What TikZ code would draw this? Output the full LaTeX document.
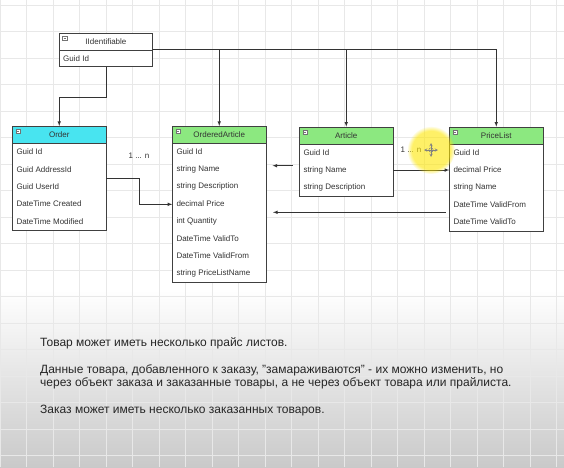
\documentclass[tikz,border=0pt]{standalone}
\usepackage{fontspec}
\setmainfont{Liberation Sans}
\usetikzlibrary{positioning,fadings}
\definecolor{ordercyan}{RGB}{72,228,240}
\definecolor{headgreen}{RGB}{140,232,128}
\begin{document}
\begin{tikzpicture}[x = 1pt, y = -1pt,
    every node/.style = {font = \fontsize{8}{9.6}\selectfont, text = black!80},
    classbox/.style = {draw = black!75, fill = white, line width = .6pt, minimum width = 93.3pt, inner sep = 0pt, anchor = north west},
    headbox/.style = {classbox, minimum height = 17.33pt},
    rowtext/.style = {anchor = west, inner sep = 0pt},
    link/.style = {draw = black!80, line width = .6pt},
    note/.style = {anchor = base west, inner sep = 0pt, font = \fontsize{12}{13.7}\selectfont, text = black!85}]
  \useasboundingbox (0, 0) rectangle (564, 467);
  \fill[white] (0, 0) rectangle (564, 467);
  \shade[top color = white, bottom color = black!21] (0, 290) rectangle (564, 467);
  \foreach \gx in {0, 26.5, ..., 564}
    \draw[black!9, line width = .5pt] (\gx, 0)--(\gx, 467);
  \foreach \gy in {5, 31.5, ..., 467}
    \draw[black!9, line width = .5pt] (0, \gy)--(564, \gy);
  % IIdentifiable
  \def\bx{59} \def\by{32.7}
  \node[classbox, minimum height = 33.3pt] (iid) at (\bx, \by) {};
  \node[headbox] (iid-head) at (\bx, \by) {IIdentifiable};
  \node[rowtext] (iid-1) at ({\bx + 4}, {\by + 26}) {Guid Id};
  % Order
  \def\bx{12.3} \def\by{126}
  \node[classbox, minimum height = 104pt] (order) at (\bx, \by) {};
  \node[headbox, fill = ordercyan] (order-head) at (\bx, \by) {Order};
  \foreach \txt [count = \i] in {Guid Id, Guid AddressId, Guid UserId, DateTime Created, DateTime Modified}
    \node[rowtext] (order-\i) at ({\bx + 4}, {\by + 17.33*\i + 8.67}) {\txt};
  % OrderedArticle
  \def\bx{172.3} \def\by{126}
  \node[classbox, minimum height = 156pt] (oart) at (\bx, \by) {};
  \node[headbox, fill = headgreen] (oart-head) at (\bx, \by) {OrderedArticle};
  \foreach \txt [count = \i] in {Guid Id, string Name, string Description, decimal Price, int Quantity, DateTime ValidTo, DateTime ValidFrom, string PriceListName}
    \node[rowtext] (oart-\i) at ({\bx + 4}, {\by + 17.33*\i + 8.67}) {\txt};
  % Article
  \def\bx{299.3} \def\by{126.7}
  \node[classbox, minimum height = 69.3pt] (article) at (\bx, \by) {};
  \node[headbox, fill = headgreen] (article-head) at (\bx, \by) {Article};
  \foreach \txt [count = \i] in {Guid Id, string Name, string Description}
    \node[rowtext] (article-\i) at ({\bx + 4}, {\by + 17.33*\i + 8.67}) {\txt};
  % PriceList
  \def\bx{449.3} \def\by{126.7}
  \node[classbox, minimum height = 104pt] (plist) at (\bx, \by) {};
  \node[headbox, fill = headgreen] (plist-head) at (\bx, \by) {PriceList};
  \foreach \txt [count = \i] in {Guid Id, decimal Price, string Name, DateTime ValidFrom, DateTime ValidTo}
    \node[rowtext] (plist-\i) at ({\bx + 4}, {\by + 17.33*\i + 8.67}) {\txt};
  % collapse icons
  \foreach \c in {iid, order, oart, article, plist} {
    \draw[black!55, fill = white, line width = .4pt] ([shift = {(3.5, 3.5)}]\c-head.north west) rectangle ++(4.5, 3.5);
    \draw[black!55, line width = .4pt] ([shift = {(4.6, 5.25)}]\c-head.north west)--++(2.3, 0);
  }
  % connectors
  \draw[link, -latex] (iid.south)--++(0, 30.3) -| (order.north);
  \draw[link, -latex] (iid.east) -| (plist.north);
  \draw[link, -latex] (oart.north |- iid.east)--(oart.north);
  \draw[link, -latex] (article.north |- iid.east)--(article.north);
  \draw[link, -latex] (order.east)--++(33.3, 0) |- (oart.west);
  \draw[link, -latex] (article.east |- article-2)--(plist.west |- article-2);
  \coordinate (art-out) at (292.5, 165.7);
  \coordinate (oart-in) at (272.5, 165.7);
  \draw[link, -latex] (art-out)--(oart-in);
  \coordinate (plist-out) at (445.7, 212.3);
  \coordinate (oart-back) at (273, 212.3);
  \draw[link, -latex] (plist-out)--(oart-back);
  \node (mult-1) at (139, 156) {1 ... n};
  \node (mult-2) at (411, 150) {1 ... n};
  % cursor highlight
  \fill[yellow!90!orange, opacity = .6, path fading = circle with fuzzy edge 20 percent] (431, 150) circle (24);
  \draw[black!50, line width = .5pt, <->, >=stealth] (424, 150)--(438, 150);
  \draw[black!50, line width = .5pt, <->, >=stealth] (431, 143)--(431, 157);
  \draw[black!50, line width = .5pt] (431, 150) circle (2.2);
  % notes
  \node[note] (note-1) at (40, 346) {Товар может иметь несколько прайс листов.};
  \node[note] (note-2) at (40, 373) {Данные товара, добавленного к заказу, "замараживаются" - их можно изменить, но};
  \node[note] (note-3) at (40, 386.7) {через объект заказа и заказанные товары, а не через объект товара или прайлиста.};
  \node[note] (note-4) at (40, 413) {Заказ может иметь несколько заказанных товаров.};
\end{tikzpicture}
\end{document}
